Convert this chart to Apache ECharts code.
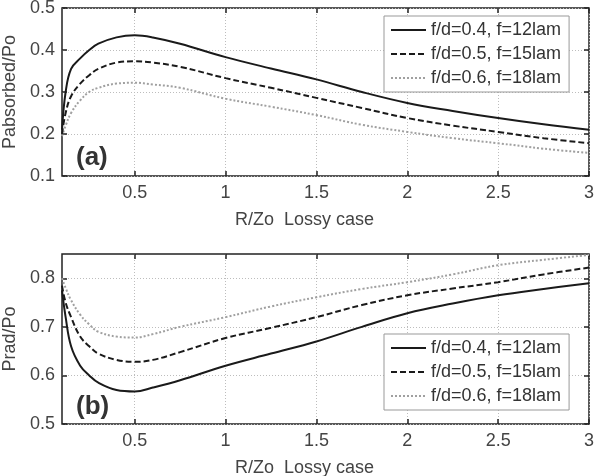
<!DOCTYPE html>
<html>
<head>
<meta charset="utf-8">
<script src="https://cdn.jsdelivr.net/npm/echarts@6/dist/echarts.min.js"></script>
<style>
  html, body { margin: 0; padding: 0; background: #fff; }
  #chart { width: 595px; height: 476px; }
</style>
</head>
<body>
<div id="chart"></div>
<script>
// R/Zo sample points (shared by both panels)
var xs = [0.1, 0.12, 0.15, 0.2, 0.25, 0.3, 0.4, 0.5, 0.6, 0.75, 1, 1.25, 1.5, 1.75, 2, 2.25, 2.5, 2.75, 3];

// (a) Pabsorbed/Po
var absF12 = [0.21, 0.30, 0.355, 0.38, 0.40, 0.415, 0.43, 0.435, 0.43, 0.415, 0.383, 0.356, 0.330, 0.300, 0.274, 0.255, 0.238, 0.223, 0.21];
var absF15 = [0.20, 0.25, 0.29, 0.32, 0.34, 0.355, 0.37, 0.373, 0.37, 0.36, 0.333, 0.31, 0.286, 0.262, 0.238, 0.22, 0.205, 0.19, 0.178];
var absF18 = [0.195, 0.22, 0.25, 0.28, 0.30, 0.31, 0.32, 0.322, 0.318, 0.31, 0.284, 0.265, 0.245, 0.222, 0.205, 0.19, 0.178, 0.165, 0.155];

// (b) Prad/Po
var radF12 = [0.775, 0.72, 0.66, 0.62, 0.60, 0.585, 0.57, 0.567, 0.575, 0.59, 0.62, 0.645, 0.67, 0.70, 0.728, 0.748, 0.765, 0.778, 0.79];
var radF15 = [0.785, 0.75, 0.72, 0.68, 0.66, 0.645, 0.632, 0.628, 0.632, 0.648, 0.677, 0.698, 0.72, 0.745, 0.765, 0.779, 0.792, 0.808, 0.822];
var radF18 = [0.80, 0.78, 0.755, 0.725, 0.705, 0.69, 0.68, 0.678, 0.685, 0.70, 0.72, 0.742, 0.761, 0.778, 0.792, 0.808, 0.827, 0.838, 0.848];

var names = ['f/d=0.4, f=12lam', 'f/d=0.5, f=15lam', 'f/d=0.6, f=18lam'];
var xTicks = [0.5, 1, 1.5, 2, 2.5, 3];
var yTicksA = [0.1, 0.2, 0.3, 0.4, 0.5];
var yTicksB = [0.5, 0.6, 0.7, 0.8];

var FONT = 'Liberation Sans, Arial, sans-serif';
var lineStyles = [
  {color: '#1a1a1a', width: 2, type: 'solid'},
  {color: '#1a1a1a', width: 2, type: [6, 3]},
  {color: '#a0a0a0', width: 2, type: [2, 2]}
];

function pairs(vals) {
  return xs.map(function (x, i) { return [x, vals[i]]; });
}

var gridLine = {show: true, lineStyle: {color: '#bdbdbd', type: [1, 2], width: 1}};

function xAx(grid, top) {
  return {
    type: 'value', gridIndex: grid, min: 0.1, max: 3,
    position: top ? 'top' : 'bottom',
    name: top ? '' : 'R/Zo  Lossy case',
    nameLocation: 'middle', nameGap: 35,
    nameTextStyle: {color: '#444', fontSize: 18, fontFamily: FONT, padding: [0, 42, 0, 0]},
    axisLine: {show: false},
    axisTick: {show: true, inside: true, length: 5, customValues: xTicks, lineStyle: {color: '#222', width: 1.5}},
    axisLabel: {show: !top, customValues: xTicks, color: '#444', fontSize: 18, fontFamily: FONT, margin: 8},
    splitLine: top ? {show: false} : gridLine
  };
}

function yAx(grid, right, name, min, max, ticks) {
  return {
    type: 'value', gridIndex: grid, min: min, max: max,
    position: right ? 'right' : 'left',
    name: right ? '' : name,
    nameLocation: 'middle', nameRotate: 90, nameGap: 42,
    nameTextStyle: {color: '#444', fontSize: 18, fontFamily: FONT},
    axisLine: {show: false},
    axisTick: {show: true, inside: true, length: 5, customValues: ticks, lineStyle: {color: '#222', width: 1.5}},
    axisLabel: {show: !right, customValues: ticks, color: '#444', fontSize: 18, fontFamily: FONT, margin: 7},
    splitLine: right ? {show: false} : gridLine
  };
}

var series = [];
[[absF12, absF15, absF18], [radF12, radF15, radF18]].forEach(function (set, g) {
  set.forEach(function (vals, k) {
    series.push({
      name: names[k], type: 'line', xAxisIndex: g * 2, yAxisIndex: g * 2,
      data: pairs(vals), smooth: 0.4, symbol: 'none',
      lineStyle: lineStyles[k], itemStyle: {color: lineStyles[k].color},
      z: 3 - k
    });
  });
});

function legendAt(top) {
  return {
    data: names, orient: 'vertical', left: 384, top: top,
    backgroundColor: '#fff', borderColor: '#999', borderWidth: 1,
    padding: [5, 8, 5, 6], itemGap: 6, itemWidth: 35, itemHeight: 14,
    itemStyle: {opacity: 0},
    textStyle: {color: '#333', fontSize: 18, fontFamily: FONT, padding: [0, 0, 0, 0]},
    selectedMode: false
  };
}

var chart = echarts.init(document.getElementById('chart'));
chart.setOption({
  animation: false,
  backgroundColor: '#fff',
  title: [
    {text: '(a)', left: 71, top: 140, textStyle: {fontSize: 26, fontWeight: 'bold', color: '#333', fontFamily: FONT}},
    {text: '(b)', left: 71, top: 389, textStyle: {fontSize: 26, fontWeight: 'bold', color: '#333', fontFamily: FONT}}
  ],
  grid: [
    {left: 62, top: 8, width: 527, height: 168, outerBoundsMode: 'none', show: true, borderColor: '#222', borderWidth: 1.5},
    {left: 62, top: 254, width: 527, height: 170, outerBoundsMode: 'none', show: true, borderColor: '#222', borderWidth: 1.5}
  ],
  xAxis: [xAx(0, false), xAx(0, true), xAx(1, false), xAx(1, true)],
  yAxis: [
    yAx(0, false, 'Pabsorbed/Po', 0.1, 0.5, yTicksA), yAx(0, true, '', 0.1, 0.5, yTicksA),
    yAx(1, false, 'Prad/Po', 0.5, 0.85, yTicksB), yAx(1, true, '', 0.5, 0.85, yTicksB)
  ],
  legend: [legendAt(16), legendAt(334)],
  series: series
});
</script>
</body>
</html>
